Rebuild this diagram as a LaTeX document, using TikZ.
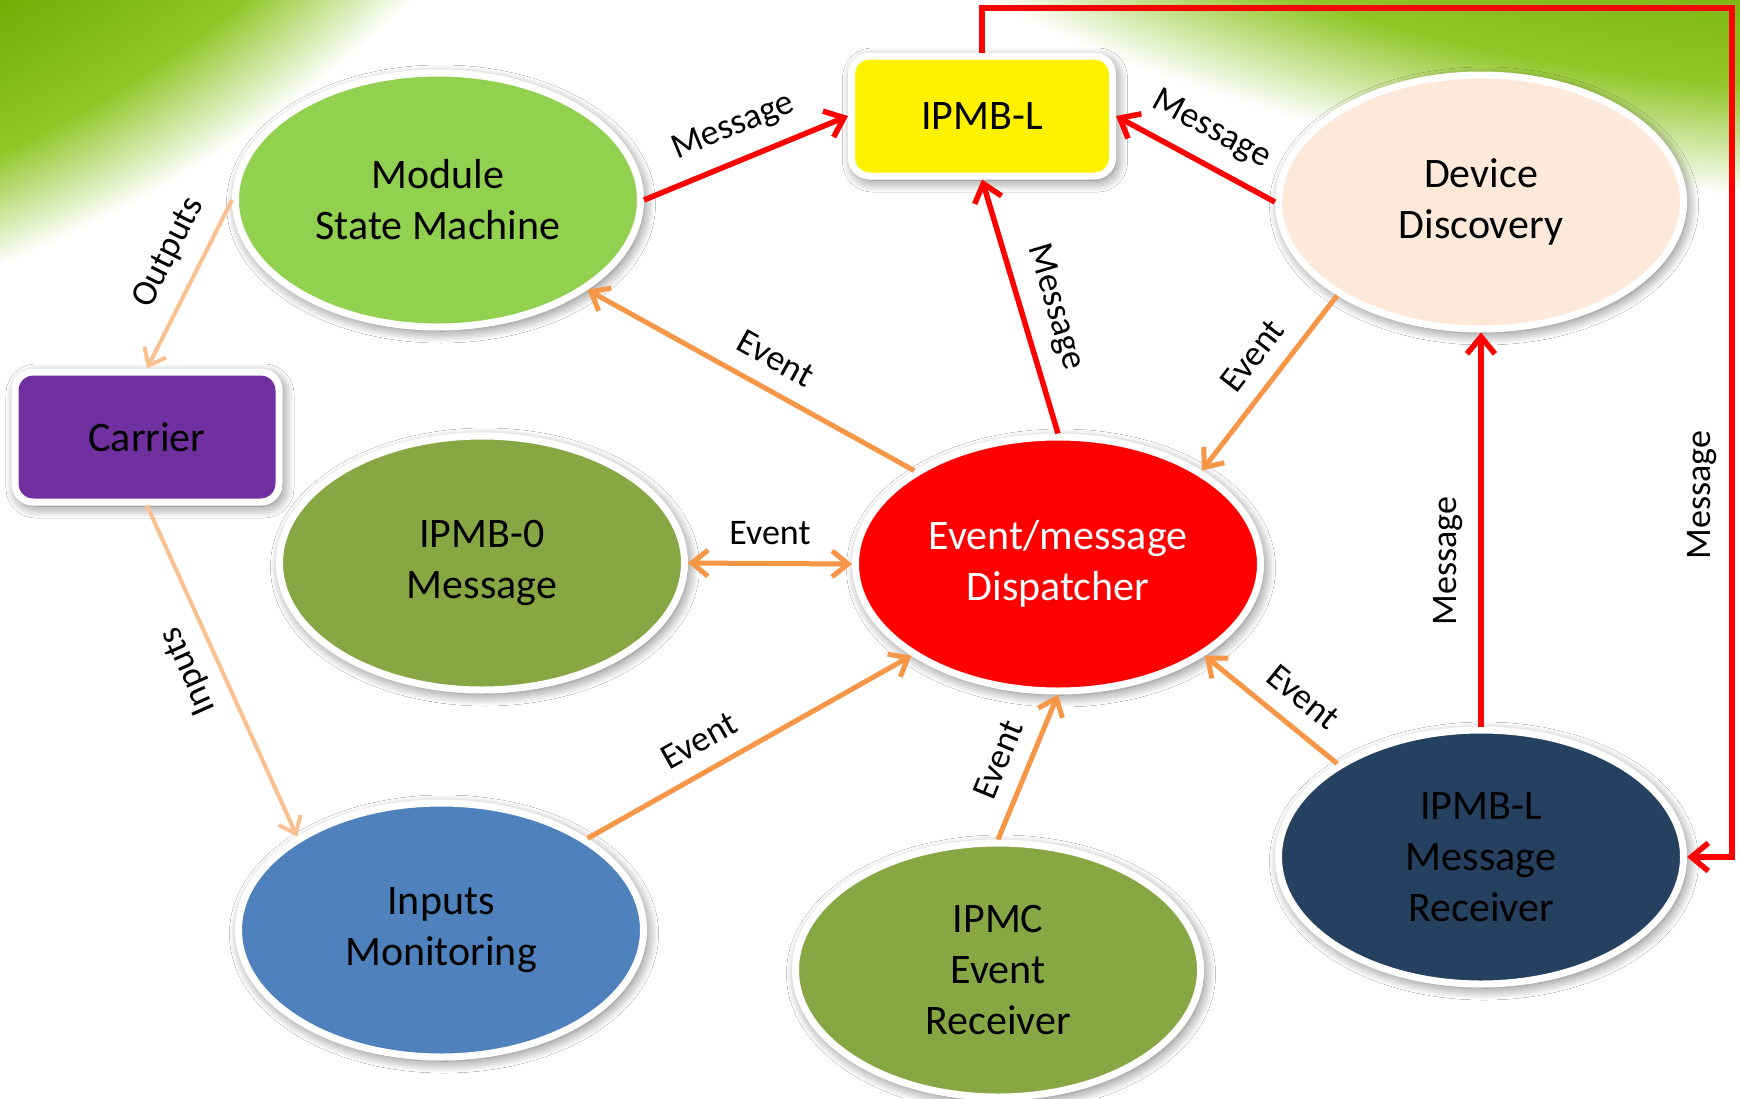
\documentclass[tikz,border=0pt]{standalone}
\usepackage{fontspec}
\setmainfont{Carlito}
\usetikzlibrary{shapes.geometric,arrows.meta,shadows.blur}

\definecolor{leafdark}{RGB}{112,172,6}
\definecolor{leafgreen}{RGB}{145,198,40}
\definecolor{msmgreen}{RGB}{146,208,80}
\definecolor{olivegreen}{RGB}{135,167,69}
\definecolor{peach}{RGB}{253,233,217}
\definecolor{plum}{RGB}{112,48,160}
\definecolor{skyblue}{RGB}{79,129,189}
\definecolor{navy}{RGB}{38,64,96}
\definecolor{msgred}{RGB}{255,0,0}
\definecolor{evorange}{RGB}{247,150,70}
\definecolor{lightorange}{RGB}{250,192,143}

% green glow that fades to white at its rim (25bp is the rim of the shaded path)
\pgfdeclareradialshading{leafglow}{\pgfpointorigin}{color(0bp)=(leafdark); color(19bp)=(leafdark); color(22.5bp)=(leafgreen); color(25bp)=(white); color(50bp)=(white)}

\tikzset{
  nodeshadow/.style={blur shadow={shadow xshift=3pt, shadow yshift=-4pt, shadow blur radius=12pt, shadow blur steps=14, shadow opacity=58}},
  bubble/.style={ellipse, draw=white, line width=7pt, minimum width=405pt, minimum height=254pt,
    inner sep=0pt, align=center, font=\fontsize{42}{51}\selectfont, nodeshadow},
  tag/.style={rectangle, rounded corners=18pt, draw=white, line width=7pt, inner sep=0pt,
    align=center, font=\fontsize{42}{51}\selectfont, nodeshadow},
  msg/.style={draw=msgred, line width=5.5pt, -{Straight Barb[length=17pt,width=28pt]}},
  evt/.style={draw=evorange, line width=5pt, -{Straight Barb[length=16pt,width=26pt]}},
  evtboth/.style={draw=evorange, line width=5pt, {Straight Barb[length=16pt,width=26pt]}-{Straight Barb[length=16pt,width=26pt]}},
  io/.style={draw=lightorange, line width=4pt, -{Straight Barb[length=15pt,width=24pt]}},
  lbl/.style={font=\fontsize{36}{40}\selectfont, inner sep=3pt, text=black},
}

\begin{document}
\begin{tikzpicture}[x=1pt,y=-1pt]
\useasboundingbox (0,0) rectangle (1740,1098);
\clip (0,0) rectangle (1740,1098);
\fill[white] (0,0) rectangle (1740,1098);

% background leaves in the upper corners
\shade[shading=leafglow] (-600,-600) ellipse [x radius=1280pt, y radius=980pt];
\shade[shading=leafglow] (1900,-900) ellipse [x radius=1592pt, y radius=1101pt];

% nodes
\node[bubble, fill=msmgreen] (msm) at (438,200) {Module\\State Machine};
\node[tag, fill=yellow, minimum width=261pt, minimum height=120pt] (ipmbl) at (982,116) {IPMB-L};
\node[bubble, fill=peach] (dd) at (1481,202) {Device\\Discovery};
\node[tag, fill=plum, minimum width=264pt, minimum height=130pt] (carrier) at (147,437) {Carrier};
\node[bubble, fill=olivegreen] (ipmb0) at (482,563) {IPMB-0\\Message};
\node[bubble, fill=msgred, text=white] (disp) at (1058,564) {Event/message\\Dispatcher};
\node[bubble, fill=skyblue] (inmon) at (441,930) {Inputs\\Monitoring};
\node[bubble, fill=olivegreen] (ipmc) at (998,970) {IPMC\\Event\\Receiver};
\node[bubble, fill=navy] (recv) at (1481,857) {IPMB-L\\Message\\Receiver};

% message paths
\draw[msg] (msm.east) -- node[lbl, sloped, above=13pt] {Message} (ipmbl.west);
\draw[msg] (dd.west) -- node[lbl, sloped, above=13pt] {Message} (ipmbl.east);
\draw[msg] (disp.north) -- node[lbl, sloped, above=13pt, pos=0.46] {Message} (ipmbl.south);
\draw[msg] (recv.north) -- node[lbl, sloped, above=13pt, pos=0.42] {Message} (dd.south);
\coordinate (loopTR) at (1732,8);
\draw[msg] (ipmbl.north) |- (loopTR) |- (recv.east);
\node[lbl, rotate=90] (loopmsg) at (1702,495) {Message};

% event paths
\draw[evt] (disp.147) -- node[lbl, sloped, above=14pt, pos=0.47] {Event} (msm.-31);
\draw[evt] (dd.213) -- node[lbl, sloped, above=13pt, pos=0.45] {Event} (disp.33);
\draw[evtboth] (ipmb0.east) -- node[lbl, above=13pt] {Event} (disp.west);
\draw[evt] (inmon.32) -- node[lbl, sloped, above=13pt, pos=0.39] {Event} (disp.212);
\draw[evt] (ipmc.north) -- node[lbl, sloped, above=13pt, pos=0.47] {Event} (disp.south);
\draw[evt] (recv.147) -- node[lbl, sloped, above=13pt, pos=0.4] {Event} (disp.-32);

% carrier signals
\draw[io] (msm.west) -- node[lbl, sloped, above=13pt, pos=0.4] {Outputs} (carrier.north);
\draw[io] (carrier.south) -- (inmon.147);
\node[lbl, rotate=114] (inlbl) at (189,671) {Inputs};
\end{tikzpicture}
\end{document}
